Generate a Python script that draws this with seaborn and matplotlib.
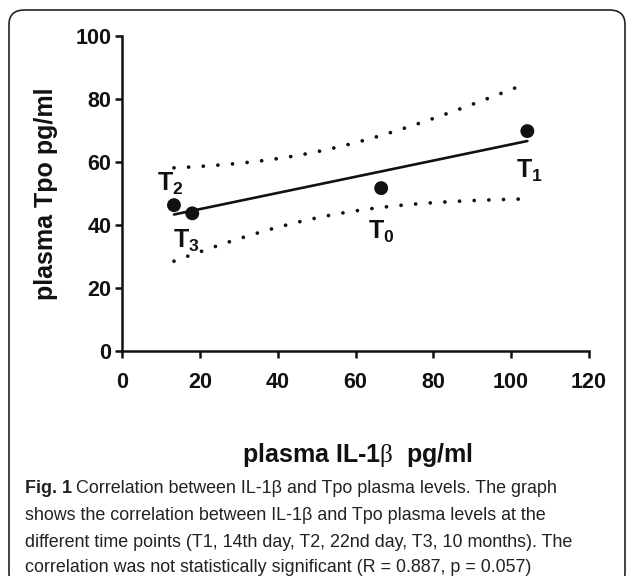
import numpy as np
import pandas as pd
import seaborn as sns
import matplotlib.pyplot as plt
from matplotlib.patches import FancyBboxPatch

# Data (plasma IL-1b vs plasma Tpo, pg/ml)
labels = ['T0', 'T1', 'T2', 'T3']
il1b = [66.6, 104.2, 13.3, 18.0]
tpo = [51.7, 69.8, 46.3, 43.7]

# label anchor positions (data units)
label_x = [66.5, 104.8, 12.3, 16.4]
label_y = [37.8, 57.1, 53.0, 34.9]

x_ticks = [0, 20, 40, 60, 80, 100, 120]
y_ticks = [0, 20, 40, 60, 80, 100]

caption = [
    "Correlation between IL-1β and Tpo plasma levels. The graph",
    "shows the correlation between IL-1β and Tpo plasma levels at the",
    "different time points (T1, 14th day, T2, 22nd day, T3, 10 months). The",
    "correlation was not statistically significant (R = 0.887, p = 0.057)",
]

df = pd.DataFrame({'il1b': il1b, 'tpo': tpo, 'label': labels})

# Linear fit and 95% confidence band of the fit
x = df['il1b'].to_numpy()
y = df['tpo'].to_numpy()
n = len(x)
slope, intercept = np.polyfit(x, y, 1)
xs = np.linspace(x.min(), x.max(), 50)
fit = intercept + slope * xs
resid = y - (intercept + slope * x)
s = np.sqrt((resid ** 2).sum() / (n - 2))
sxx = ((x - x.mean()) ** 2).sum()
t_crit = 4.303  # t(0.975, df=2)
half = t_crit * s * np.sqrt(1 / n + (xs - x.mean()) ** 2 / sxx)
df_fit = pd.DataFrame({'x': xs, 'fit': fit, 'lo': fit - half, 'hi': fit + half})

sns.set_theme(style='ticks')
plt.rcParams['font.family'] = ['Liberation Sans', 'DejaVu Sans']
plt.rcParams['mathtext.fontset'] = 'custom'
plt.rcParams['mathtext.rm'] = 'Liberation Serif'
plt.rcParams['mathtext.bf'] = 'Liberation Sans:bold'

fig = plt.figure(figsize=(6.27, 5.76), dpi=100)
ax = fig.add_axes([0.195, 0.3906, 0.744, 0.547])

sns.lineplot(data=df_fit, x='x', y='fit', color='#111111', lw=1.9, ax=ax)
for col in ['lo', 'hi']:
    sns.lineplot(data=df_fit, x='x', y=col, color='#111111', lw=2.7,
                 ax=ax, dashes=False)
    ax.lines[-1].set_linestyle((0, (0.01, 3.9)))
    ax.lines[-1].set_dash_capstyle('round')
sns.scatterplot(data=df, x='il1b', y='tpo', color='#111111', s=100,
                edgecolor='none', ax=ax, zorder=5)

for lab, lx, ly in zip(labels, label_x, label_y):
    ax.text(lx, ly, r'$\mathbf{T_%s}$' % lab[1], ha='center', va='center',
            fontsize=18, color='#111111')

ax.set_xlim(0, 120)
ax.set_ylim(0, 100)
ax.set_xticks(x_ticks)
ax.set_yticks(y_ticks)
ax.tick_params(width=1.8, length=5, labelsize=15.5, color='#111111',
               labelcolor='#111111')
ax.tick_params(axis='x', pad=10)
ax.tick_params(axis='y', pad=3)
for t in ax.get_xticklabels() + ax.get_yticklabels():
    t.set_fontweight('bold')
for side in ['left', 'bottom']:
    ax.spines[side].set_linewidth(1.8)
    ax.spines[side].set_color('#111111')
sns.despine(ax=ax)
ax.set_xlabel('')
ax.set_ylabel('plasma Tpo pg/ml', fontsize=18, fontweight='bold',
              color='#111111', labelpad=12)

fig.text(0.57, 1 - 455 / 576, r'plasma IL-1$\mathrm{\beta}$  pg/ml',
         ha='center', va='center', fontsize=18, fontweight='bold',
         color='#111111')

# caption, placed on baselines
cap_font = ['Liberation Sans', 'DejaVu Sans']
cap_size = 12.9
line_y = [493, 520, 547, 572]
x0 = 25 / 627
fig.canvas.draw()
r = fig.canvas.get_renderer()
head = fig.text(x0, 1 - line_y[0] / 576, 'Fig. 1', fontsize=cap_size,
                fontweight='bold', family=cap_font, va='baseline',
                color='#222222')
bb = head.get_window_extent(renderer=r)
fig.text((bb.x1 + 4) / 627, 1 - line_y[0] / 576, caption[0],
         fontsize=cap_size, family=cap_font, va='baseline', color='#222222')
for txt, ly in zip(caption[1:], line_y[1:]):
    fig.text(x0, 1 - ly / 576, txt, fontsize=cap_size, family=cap_font,
             va='baseline', color='#222222')

# rounded border around the panel
box = FancyBboxPatch((9 / 627, -0.02), 616 / 627, 1.0 - 10 / 576 + 0.02,
                     boxstyle='round,pad=0,rounding_size=0.025',
                     transform=fig.transFigure, fill=False,
                     edgecolor='#222222', lw=1.2)
fig.patches.append(box)

fig.savefig('out.png', dpi=100)
